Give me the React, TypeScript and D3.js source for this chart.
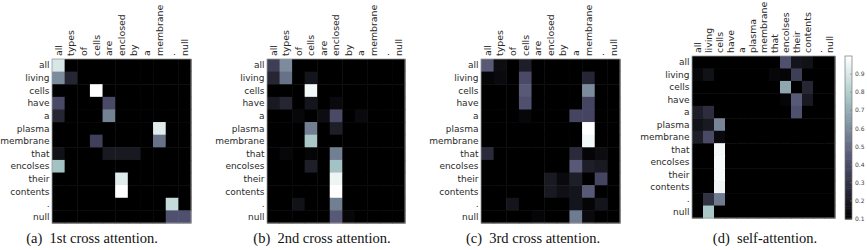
import { useEffect, useRef } from "react"
import * as d3 from "d3"

// tokens
const targetWords = ["all", "living", "cells", "have", "a", "plasma", "membrane", "that", "encolses", "their", "contents", ".", "null"]
const sourceWords = ["all", "types", "of", "cells", "are", "enclosed", "by", "a", "membrane", ".", "null"]

// attention weights (rows = targetWords)
const cross1 = [
  [0.9, 0, 0, 0, 0, 0, 0, 0, 0, 0, 0],
  [0.6, 0.25, 0, 0, 0, 0, 0, 0, 0, 0, 0],
  [0, 0, 0, 1.0, 0, 0, 0, 0, 0, 0, 0],
  [0.4, 0, 0, 0, 0.4, 0, 0, 0, 0, 0, 0],
  [0.25, 0, 0, 0, 0.57, 0, 0, 0, 0, 0, 0],
  [0, 0, 0, 0, 0, 0, 0, 0, 0.92, 0, 0],
  [0, 0, 0, 0.36, 0, 0, 0, 0, 0.52, 0, 0],
  [0.17, 0, 0, 0, 0.2, 0.2, 0.2, 0, 0, 0, 0],
  [0.76, 0, 0, 0, 0, 0, 0, 0, 0, 0, 0],
  [0, 0, 0, 0, 0, 0.92, 0, 0, 0, 0, 0],
  [0, 0, 0, 0, 0, 1.0, 0, 0, 0, 0, 0],
  [0, 0, 0, 0, 0, 0, 0, 0, 0, 0.85, 0],
  [0, 0, 0, 0, 0, 0, 0, 0, 0, 0.42, 0.42],
]

const cross2 = [
  [0.35, 0.6, 0, 0, 0, 0, 0, 0, 0, 0, 0],
  [0.25, 0.52, 0, 0.18, 0, 0, 0, 0, 0, 0, 0],
  [0, 0, 0, 0.97, 0, 0, 0, 0, 0, 0, 0],
  [0.2, 0.25, 0, 0.18, 0, 0.14, 0, 0, 0, 0, 0],
  [0, 0, 0.13, 0, 0.15, 0.4, 0, 0.14, 0, 0, 0],
  [0, 0, 0, 0.56, 0, 0.22, 0, 0, 0, 0, 0],
  [0, 0, 0, 0.78, 0, 0, 0, 0, 0, 0, 0],
  [0, 0.13, 0, 0.12, 0, 0.56, 0, 0, 0, 0, 0],
  [0, 0, 0, 0.22, 0, 0.76, 0, 0, 0, 0, 0],
  [0, 0, 0, 0, 0, 0.96, 0, 0, 0, 0, 0],
  [0, 0, 0, 0, 0, 1.0, 0, 0, 0, 0, 0],
  [0, 0, 0.17, 0, 0, 0.56, 0, 0, 0, 0, 0],
  [0, 0, 0, 0, 0, 0.45, 0.13, 0, 0, 0, 0],
]

const cross3 = [
  [0.45, 0.15, 0, 0.22, 0, 0, 0, 0, 0, 0, 0],
  [0.12, 0.14, 0, 0.4, 0, 0, 0, 0, 0.25, 0, 0],
  [0, 0, 0, 0.45, 0, 0, 0, 0, 0.6, 0, 0],
  [0, 0, 0, 0.42, 0, 0, 0, 0, 0.38, 0, 0],
  [0, 0, 0, 0.13, 0, 0, 0, 0.38, 0.38, 0, 0],
  [0, 0, 0, 0, 0, 0, 0, 0, 1.0, 0, 0],
  [0, 0, 0, 0, 0, 0, 0, 0, 0.97, 0, 0],
  [0.27, 0, 0, 0, 0, 0, 0, 0.27, 0.12, 0.15, 0],
  [0, 0, 0, 0, 0, 0, 0, 0.45, 0.22, 0.2, 0],
  [0, 0, 0, 0, 0, 0.2, 0.14, 0.22, 0.1, 0.38, 0],
  [0, 0, 0, 0, 0, 0.2, 0.16, 0.18, 0.45, 0, 0],
  [0, 0, 0.18, 0, 0, 0, 0, 0.18, 0.12, 0.18, 0],
  [0, 0, 0, 0, 0.12, 0, 0, 0.55, 0.14, 0, 0],
]

const selfAttn = [
  [0, 0, 0, 0, 0, 0, 0, 0, 0.42, 0.18, 0.17, 0, 0],
  [0.13, 0.17, 0, 0, 0, 0, 0, 0.13, 0.12, 0.35, 0, 0, 0],
  [0, 0, 0, 0, 0, 0, 0, 0, 0.68, 0.05, 0.25, 0, 0],
  [0, 0, 0, 0, 0, 0, 0, 0, 0.12, 0.45, 0.2, 0, 0],
  [0.22, 0.28, 0, 0, 0, 0, 0, 0, 0, 0.42, 0, 0, 0],
  [0.17, 0.2, 0.58, 0, 0, 0, 0, 0, 0, 0, 0, 0, 0],
  [0.22, 0.4, 0.14, 0, 0, 0, 0, 0, 0, 0, 0, 0, 0],
  [0, 0, 0.97, 0, 0, 0, 0, 0, 0, 0, 0, 0, 0],
  [0, 0, 0.98, 0, 0, 0, 0, 0, 0, 0, 0, 0, 0],
  [0, 0, 0.98, 0, 0, 0, 0, 0, 0, 0, 0, 0, 0],
  [0, 0, 0.96, 0, 0, 0, 0, 0, 0, 0, 0, 0, 0],
  [0, 0.3, 0.55, 0, 0, 0, 0, 0, 0, 0, 0, 0, 0],
  [0, 0.78, 0, 0, 0, 0, 0, 0, 0, 0, 0, 0, 0],
]

const captions = ["(a)  1st cross attention.", "(b)  2nd cross attention.", "(c)  3rd cross attention.", "(d)  self-attention."]
const colorTicks = [0.1, 0.2, 0.3, 0.4, 0.5, 0.6, 0.7, 0.8, 0.9]

// matplotlib "bone"
const bone = (t: number) => {
  const r = t < 0.746 ? (t * 0.652) / 0.746 : 0.652 + ((t - 0.746) * 0.348) / 0.254
  const g = t < 0.365 ? (t * 0.319) / 0.365 : t < 0.746 ? 0.319 + ((t - 0.365) * 0.458) / 0.381 : 0.777 + ((t - 0.746) * 0.223) / 0.254
  const b = t < 0.365 ? (t * 0.444) / 0.365 : 0.444 + ((t - 0.365) * 0.556) / 0.635
  return d3.rgb(r * 255, g * 255, b * 255).toString()
}

const panels = [
  { data: cross1, cols: sourceWords, x0: 52, x1: 191, y0: 59, y1: 223, cx: 92 },
  { data: cross2, cols: sourceWords, x0: 267, x1: 405, y0: 59, y1: 223, cx: 322 },
  { data: cross3, cols: sourceWords, x0: 481, x1: 620, y0: 59, y1: 223, cx: 533 },
  { data: selfAttn, cols: targetWords, x0: 692, x1: 835, y0: 56, y1: 218, cx: 765 },
]

const App = () => {
  const ref = useRef<SVGSVGElement>(null)

  useEffect(() => {
    const svg = d3.select(ref.current)
    svg.selectAll("*").remove()
    const color = d3.scaleSequential(bone).domain([0.1, 1.0]).clamp(true)
    const font = "DejaVu Sans, sans-serif"

    panels.forEach((p, pi) => {
      const x = d3.scaleBand().domain(p.cols).range([p.x0, p.x1])
      const y = d3.scaleBand().domain(targetWords).range([p.y0, p.y1])
      const g = svg.append("g")

      p.data.forEach((row, ri) => {
        g.selectAll(null)
          .data(row)
          .enter()
          .append("rect")
          .attr("x", (d, ci) => x(p.cols[ci])!)
          .attr("y", y(targetWords[ri])!)
          .attr("width", x.bandwidth() + 0.5)
          .attr("height", y.bandwidth() + 0.5)
          .attr("fill", d => color(d))
      })

      g.append("rect")
        .attr("x", p.x0).attr("y", p.y0)
        .attr("width", p.x1 - p.x0).attr("height", p.y1 - p.y0)
        .attr("fill", "none").attr("stroke", "#999").attr("stroke-width", 0.8)

      g.selectAll("text.row")
        .data(targetWords)
        .enter()
        .append("text")
        .attr("class", "row")
        .attr("x", p.x0 - 2.5)
        .attr("y", d => y(d)! + y.bandwidth() / 2)
        .attr("dy", "0.35em")
        .attr("text-anchor", "end")
        .attr("font-family", font)
        .attr("font-size", 9)
        .attr("fill", "#2a2a2a")
        .text(d => d)

      g.selectAll("text.col")
        .data(p.cols)
        .enter()
        .append("text")
        .attr("class", "col")
        .attr("transform", d => `translate(${x(d)! + x.bandwidth() / 2}, ${p.y0 - 3}) rotate(-90)`)
        .attr("dy", "0.35em")
        .attr("font-family", font)
        .attr("font-size", 9.4)
        .attr("fill", "#2a2a2a")
        .text(d => d)

      svg.append("text")
        .attr("x", p.cx)
        .attr("y", 243)
        .attr("text-anchor", "middle")
        .attr("font-family", "Liberation Serif, Times New Roman, serif")
        .attr("font-size", 14.5)
        .attr("fill", "#111")
        .style("white-space", "pre")
        .text(captions[pi])
    })

    // colorbar
    const cb = svg.append("g")
    const cy = d3.scaleLinear().domain([0.1, 1.0]).range([219, 56])
    const steps = d3.range(0.1, 1.0, 0.01)
    cb.selectAll("rect")
      .data(steps)
      .enter()
      .append("rect")
      .attr("x", 845)
      .attr("y", d => cy(d + 0.01))
      .attr("width", 7)
      .attr("height", d => cy(d) - cy(d + 0.01) + 0.5)
      .attr("fill", d => color(d + 0.005))
    cb.append("rect")
      .attr("x", 845).attr("y", 56).attr("width", 7).attr("height", 163)
      .attr("fill", "none").attr("stroke", "#777").attr("stroke-width", 0.7)
    cb.selectAll("line")
      .data(colorTicks)
      .enter()
      .append("line")
      .attr("x1", 850).attr("x2", 852)
      .attr("y1", d => cy(d)).attr("y2", d => cy(d))
      .attr("stroke", "#777").attr("stroke-width", 0.6)
    cb.selectAll("text")
      .data(colorTicks)
      .enter()
      .append("text")
      .attr("x", 855)
      .attr("y", d => cy(d))
      .attr("dy", "0.35em")
      .attr("font-family", font)
      .attr("font-size", 6)
      .attr("fill", "#444")
      .text(d => d3.format(".1f")(d))
  })

  return (
    <svg ref={ref} width={867} height={250} style={{ position: "absolute", left: 0, top: 0, background: "#fff" }} />
  )
}

export default App
